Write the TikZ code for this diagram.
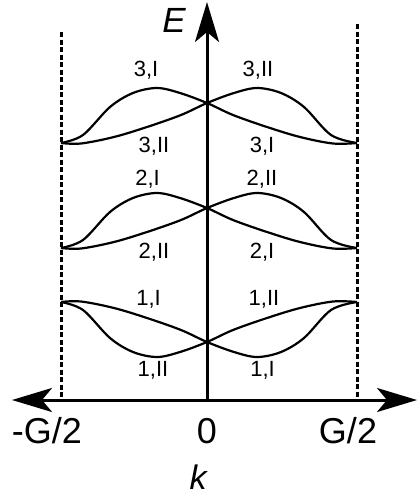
\documentclass[tikz,border=0pt]{standalone}
\usepackage{fontspec}
\setmainfont{Liberation Sans}
\usetikzlibrary{arrows.meta}
\tikzset{
  axisline/.style={line width=3pt, >={Stealth[length=40pt,width=24pt,inset=10pt]}},
  zoneline/.style={line width=3pt, dash pattern=on 5pt off 2.5pt},
  band/.style={line width=2.2pt, line join=round},
  lab/.style={inner sep=0pt, anchor=base, font=\fontsize{22}{26}\selectfont},
  biglab/.style={inner sep=0pt, anchor=base, font=\fontsize{36}{40}\selectfont},
}
\begin{document}
\begin{tikzpicture}[x=1pt,y=-1pt]
\useasboundingbox (0,0) rectangle (418,496);
% axes
\coordinate (O) at (207,400);
\coordinate (Etip) at (207,2);
\coordinate (Ltip) at (12,400);
\coordinate (Rtip) at (417,400);
\coordinate (Ltop) at (61,32);
\coordinate (Lbot) at (61,400);
\coordinate (Rtop) at (357,24);
\coordinate (Rbot) at (357,400);
\draw[zoneline] (Ltop) -- (Lbot);
\draw[zoneline] (Rtop) -- (Rbot);
\draw[axisline,<->] (Ltip) -- (Rtip);
\draw[axisline,->] (O) -- (Etip);
% bands: crossing points
\foreach \cy/\s in {103/1, 208/1, 342/-1}{
  \draw[band] plot[smooth,tension=0.55] coordinates {
    (207-146,\cy+40*\s) (207-124,\cy+32*\s) (207-97,\cy+4*\s) (207-74,\cy-10*\s)
    (207-50,\cy-15*\s) (207-27,\cy-10*\s) (207,\cy) (207+26,\cy+12*\s)
    (207+60,\cy+24*\s) (207+93,\cy+34*\s) (207+126,\cy+40.5*\s) (207+150,\cy+40*\s)};
  \draw[band] plot[smooth,tension=0.55] coordinates {
    (207+150,\cy+40*\s) (207+124,\cy+32*\s) (207+97,\cy+4*\s) (207+74,\cy-10*\s)
    (207+50,\cy-15*\s) (207+27,\cy-10*\s) (207,\cy) (207-26,\cy+12*\s)
    (207-60,\cy+24*\s) (207-93,\cy+34*\s) (207-126,\cy+40.5*\s) (207-146,\cy+40*\s)};
}
% band labels
\node[lab] (l3a) at (146,76) {3,I};
\node[lab] (l3b) at (258,76) {3,II};
\node[lab] (l3c) at (154,152) {3,II};
\node[lab] (l3d) at (262,152) {3,I};
\node[lab] (l2a) at (147.5,185) {2,I};
\node[lab] (l2b) at (262,185) {2,II};
\node[lab] (l2c) at (154,258) {2,II};
\node[lab] (l2d) at (262,258) {2,I};
\node[lab] (l1a) at (148.5,305) {1,I};
\node[lab] (l1b) at (264,305) {1,II};
\node[lab] (l1c) at (153,376) {1,II};
\node[lab] (l1d) at (262.5,376) {1,I};
% axis labels
\node[biglab] (mg) at (47,443) {-G/2};
\node[biglab] (zero) at (207,443) {0};
\node[biglab] (pg) at (348,443) {G/2};
\node[biglab,font=\fontsize{34}{38}\selectfont\itshape] (kl) at (198,489) {k};
\node[biglab,font=\fontsize{35}{38}\selectfont\itshape] (El) at (174,32) {E};
\end{tikzpicture}
\end{document}
